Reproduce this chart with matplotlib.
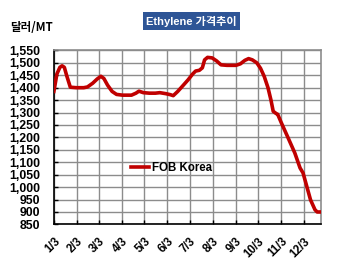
import datetime as dt

import matplotlib
matplotlib.use("Agg")
import matplotlib.pyplot as plt

# ethylene FOB Korea (days counted from Jan 3)
days = [0, 4, 8, 11, 14, 17, 22, 30, 40, 45, 52, 58, 63, 67, 72, 78, 84, 92,
        104, 110, 114, 120, 128, 136, 142, 150, 156, 160, 166, 172, 180, 186,
        190, 195, 199, 202, 206, 212, 218, 224, 232, 244, 250, 256, 261, 266,
        272, 277, 282, 287, 291, 294, 298, 300, 305, 314, 323, 330, 334, 339,
        344, 350, 353, 357]
price = [1385, 1455, 1482, 1488, 1482, 1450, 1402, 1400, 1400, 1403, 1418,
         1435, 1446, 1437, 1410, 1385, 1373, 1370, 1370, 1378, 1386, 1380,
         1378, 1378, 1380, 1376, 1372, 1368, 1385, 1405, 1432, 1455, 1467,
         1470, 1480, 1512, 1522, 1520, 1508, 1492, 1490, 1490, 1496, 1510,
         1517, 1512, 1500, 1478, 1445, 1400, 1350, 1305, 1296, 1293, 1258,
         1198, 1137, 1077, 1057, 1003, 949, 909, 900, 900]

months = list(range(1, 13))
month_labels = [f"{m}/3" for m in months]
yticks = list(range(850, 1551, 50))

start = dt.date(2008, 1, 3)
month_days = [(dt.date(2008, m, 3) - start).days for m in months]

plt.rcParams["font.family"] = ["Liberation Sans", "Noto Sans CJK KR", "DejaVu Sans"]

fig = plt.figure(figsize=(3.5, 2.74), dpi=100)
ax = fig.add_axes([0.154, 0.181, 0.763, 0.635])

ax.plot(days, price, color="#c00000", linewidth=2.6, label="FOB Korea",
        solid_joinstyle="round", zorder=3)

ax.set_xlim(0, 358)
ax.set_ylim(850, 1550)
ax.set_yticks(yticks)
ax.set_yticklabels([f"{v:,}" for v in yticks], fontsize=8.8, fontweight="bold")
ax.set_xticks(month_days)
ax.set_xticklabels(month_labels, fontsize=8.3, fontweight="bold",
                   rotation=45, ha="right", va="top", rotation_mode="anchor")
ax.tick_params(axis="both", direction="in", length=3, width=1, color="black")
ax.tick_params(axis="y", pad=10)
ax.tick_params(axis="x", pad=8)

ax.grid(True, color="#8c8c8c", linewidth=1.0)
ax.set_axisbelow(True)
for side in ("top", "right"):
    ax.spines[side].set_color("#8c8c8c")
    ax.spines[side].set_linewidth(1.2)
for side in ("left", "bottom"):
    ax.spines[side].set_color("black")
    ax.spines[side].set_linewidth(1.2)

ax.legend(loc="center left", bbox_to_anchor=(0.25, 0.325), frameon=False,
          prop={"weight": "bold", "size": 8.3},
          handlelength=1.6, handletextpad=0.2)

fig.text(0.547, 0.923, "Ethylene 가격추이", color="white", fontsize=8,
         fontweight="bold", ha="center", va="center",
         family=["Liberation Sans", "Noto Sans CJK KR"],
         bbox=dict(boxstyle="square,pad=0.28", facecolor="#2e5596", edgecolor="none"))
fig.text(0.03, 0.9, "달러/MT", fontsize=8.3, fontweight="bold", ha="left", va="center",
         family=["Noto Sans CJK KR", "Liberation Sans"])

fig.savefig("out.png", dpi=100)
